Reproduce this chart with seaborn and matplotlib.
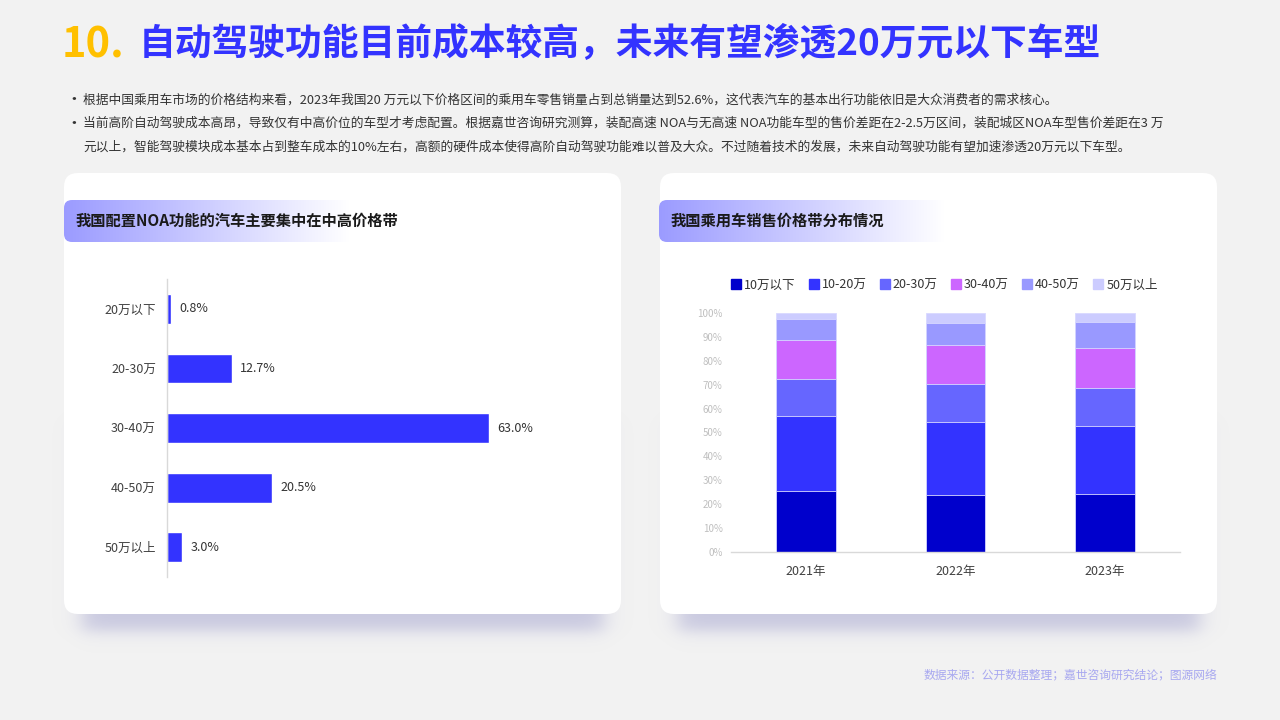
import numpy as np
import matplotlib
matplotlib.use('Agg')
import matplotlib.pyplot as plt
from matplotlib.patches import FancyBboxPatch
from matplotlib.lines import Line2D
import seaborn as sns

# ---------------- data ----------------
title_num = '10.'
title_text = '自动驾驶功能目前成本较高，未来有望渗透20万元以下车型'
bullet_lines = [
    '根据中国乘用车市场的价格结构来看，2023年我国20 万元以下价格区间的乘用车零售销量占到总销量达到52.6%，这代表汽车的基本出行功能依旧是大众消费者的需求核心。',
    '当前高阶自动驾驶成本高昂，导致仅有中高价位的车型才考虑配置。根据嘉世咨询研究测算，装配高速 NOA与无高速 NOA功能车型的售价差距在2-2.5万区间，装配城区NOA车型售价差距在3 万',
    '元以上，智能驾驶模块成本基本占到整车成本的10%左右，高额的硬件成本使得高阶自动驾驶功能难以普及大众。不过随着技术的发展，未来自动驾驶功能有望加速渗透20万元以下车型。',
]
left_header = '我国配置NOA功能的汽车主要集中在中高价格带'
right_header = '我国乘用车销售价格带分布情况'
source_text = '数据来源：公开数据整理；嘉世咨询研究结论；图源网络'

noa_bands = ['20万以下', '20-30万', '30-40万', '40-50万', '50万以上']
noa_share = [0.8, 12.7, 63.0, 20.5, 3.0]

years = ['2021年', '2022年', '2023年']
price_bands = ['10万以下', '10-20万', '20-30万', '30-40万', '40-50万', '50万以上']
share_below10 = [25.4, 23.7, 24.1]
share_10_20 = [31.6, 30.6, 28.5]
share_20_30 = [15.5, 15.9, 16.2]
share_30_40 = [16.3, 16.5, 16.4]
share_40_50 = [8.7, 9.3, 11.2]
share_above50 = [2.5, 4.0, 3.6]
band_colors = ['#0000CC', '#3333FF', '#6666FF', '#CC66FF', '#9999FF', '#CCCCFF']

# ---------------- style ----------------
sns.set_style('white')
plt.rcParams['font.family'] = ['Noto Sans CJK SC', 'DejaVu Sans']
plt.rcParams['axes.unicode_minus'] = False

BG = '#F2F2F2'
fig = plt.figure(figsize=(12.8, 7.2), dpi=100, facecolor=BG)
bg = fig.add_axes([0, 0, 1, 1])
bg.set_xlim(0, 1280)
bg.set_ylim(720, 0)
bg.axis('off')
bg.set_facecolor(BG)

# shadows below cards
W, H = 1280, 720
xs = np.arange(W) + 0.5
ys = np.arange(H) + 0.5


def soft(v, a, b, s):
    return 0.5 * (np.tanh((v - a) / s) - np.tanh((v - b) / s))


alpha = np.zeros((H, W))
fy = soft(ys, 420, 631, 9)
for x0, x1 in [(82, 604), (678, 1200)]:
    alpha = np.maximum(alpha, np.outer(fy, soft(xs, x0, x1, 12)))
shadow = np.zeros((H, W, 4))
shadow[..., 0] = 170 / 255
shadow[..., 1] = 170 / 255
shadow[..., 2] = 210 / 255
shadow[..., 3] = alpha * 0.57
bg.imshow(shadow, extent=[0, W, H, 0], origin='upper', aspect='auto',
          interpolation='bilinear', zorder=1)

# cards
for cx in [64, 660]:
    bg.add_patch(FancyBboxPatch((cx, 173), 557, 441,
                                boxstyle='round,pad=0,rounding_size=14',
                                fc='white', ec='none', zorder=2))

# header gradient bands
for hx, hw, txt in [(64, 300, left_header), (659, 300, right_header)]:
    n = 256
    t = np.linspace(0, 1, n)
    c0 = np.array([155, 155, 255]) / 255
    grad = np.ones((1, n, 4))
    for k in range(3):
        grad[0, :, k] = c0[k] + (1 - c0[k]) * np.clip(t * 1.05, 0, 1)
    clip = FancyBboxPatch((hx, 200), hw, 42, boxstyle='round,pad=0,rounding_size=8',
                          fc='none', ec='none', zorder=3)
    bg.add_patch(clip)
    im = bg.imshow(grad, extent=[hx, hx + hw, 242, 200], origin='upper',
                   aspect='auto', interpolation='bilinear', zorder=3)
    im.set_clip_path(clip)
    bg.text(hx + 12, 221, txt, fontsize=11, fontweight='bold', color='#1A1A1A',
            va='center', ha='left', zorder=4)

# title
bg.text(62, 45, title_num, fontsize=30, fontweight='bold', color='#FFC000',
        va='center', ha='left', zorder=4)
bg.text(139, 45, title_text, fontsize=26.5, fontweight='bold', color='#3333FF',
        va='center', ha='left', zorder=4)

# bullets
line_y = [100, 123.5, 147]
for i, (ly, txt) in enumerate(zip(line_y, bullet_lines)):
    if i < 2:
        bg.text(65, ly, '•', fontsize=12, color='#333333', va='center', ha='left')
    bg.text(83, ly, txt, fontsize=9.2, color='#333333', va='center', ha='left',
            fontweight='medium')

# footer
bg.text(1217, 675, source_text, fontsize=8.5, color='#A8A8F0', va='center', ha='right',
        fontweight='medium')

# ---------------- left chart ----------------
ax1 = fig.add_axes([167 / 1280, (720 - 577) / 720, 409 / 1280, 298 / 720])
ax1.set_facecolor('none')
sns.barplot(x=noa_share, y=noa_bands, orient='h', color='#3333FF', saturation=1,
            width=0.5, ax=ax1)
ax1.set_xlim(0, 80)
ax1.set_ylim(4.5, -0.5)
for s in ['top', 'right', 'bottom']:
    ax1.spines[s].set_visible(False)
ax1.spines['left'].set_color('#D9D9D9')
ax1.spines['left'].set_linewidth(1)
ax1.set_xticks([])
ax1.tick_params(axis='y', length=0, pad=8, labelsize=9, labelcolor='#404040')
ax1.set_xlabel('')
ax1.set_ylabel('')
for i, v in enumerate(noa_share):
    ax1.annotate(f'{v:.1f}%', xy=(v, i), xytext=(6, 0), textcoords='offset points',
                 va='center', ha='left', fontsize=9, color='#333333')

# ---------------- right chart ----------------
ax2 = fig.add_axes([731 / 1280, (720 - 552) / 720, 449 / 1280, 239 / 720])
ax2.set_facecolor('none')
stack = np.array([share_below10, share_10_20, share_20_30,
                  share_30_40, share_40_50, share_above50])
cum = np.cumsum(stack, axis=0) / 100.0
for i in reversed(range(len(price_bands))):
    sns.barplot(x=years, y=cum[i], order=years, color=band_colors[i], saturation=1,
                width=0.4, ax=ax2, edgecolor='#D8D8FF', linewidth=0.6)
ax2.set_xlim(-0.5, 2.5)
ax2.set_ylim(0, 1)
ticks = np.arange(0, 11) / 10
ax2.set_yticks(ticks)
ax2.set_yticklabels([f'{int(round(t * 100))}%' for t in ticks])
for s in ['top', 'right', 'left']:
    ax2.spines[s].set_visible(False)
ax2.spines['bottom'].set_color('#D9D9D9')
ax2.spines['bottom'].set_linewidth(1)
ax2.tick_params(axis='y', length=0, pad=6, labelsize=7, labelcolor='#BFBFBF')
ax2.tick_params(axis='x', length=0, pad=9, labelsize=9, labelcolor='#404040')
ax2.set_xlabel('')
ax2.set_ylabel('')

handles = [Line2D([], [], marker='s', linestyle='', markersize=7, color=c)
           for c in band_colors]
ax2.legend(handles, price_bands, loc='center', ncol=6, frameon=False,
           bbox_to_anchor=(945 / 1280, 1 - 285 / 720), bbox_transform=fig.transFigure,
           fontsize=9, handletextpad=0.35, columnspacing=1.15, handlelength=0.6,
           labelcolor='#333333')

fig.savefig('out.png', dpi=100, facecolor=BG)
